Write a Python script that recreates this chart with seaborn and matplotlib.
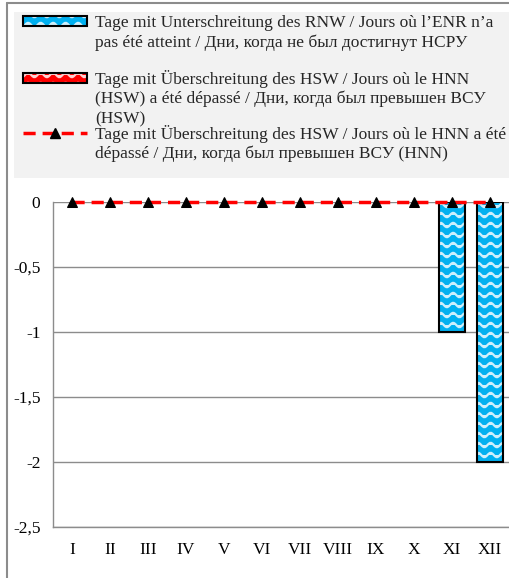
import warnings
import numpy as np
import pandas as pd
import matplotlib
matplotlib.use('Agg')
import matplotlib.pyplot as plt
import matplotlib.hatch as mhatch
from matplotlib.path import Path
from matplotlib.patches import Rectangle
from matplotlib.lines import Line2D
from matplotlib.legend_handler import HandlerTuple
import seaborn as sns

warnings.filterwarnings('ignore')

# ******************DATA******************
months = ['I', 'II', 'III', 'IV', 'V', 'VI', 'VII', 'VIII', 'IX', 'X', 'XI', 'XII']
rnw_days = [0, 0, 0, 0, 0, 0, 0, 0, 0, 0, -1, -2]   # Unterschreitung RNW
hsw_days = [0, 0, 0, 0, 0, 0, 0, 0, 0, 0, 0, 0]     # Überschreitung HSW (Balken)
hnn_days = [0, 0, 0, 0, 0, 0, 0, 0, 0, 0, 0, 0]     # Überschreitung HNN (Linie)
y_ticks = [0, -0.5, -1, -1.5, -2, -2.5]
y_ticklabels = ['0', '-0,5', '-1', '-1,5', '-2', '-2,5']

label_rnw = ['Tage mit Unterschreitung des RNW / Jours où l’ENR n’a',
             'pas été atteint / Дни, когда не был достигнут НСРУ']
label_hsw = ['Tage mit Überschreitung des HSW / Jours où le HNN',
             '(HSW) a été dépassé / Дни, когда был превышен ВСУ',
             '(HSW)']
label_hnn = ['Tage mit Überschreitung des HSW / Jours où le HNN a été',
             'dépassé / Дни, когда был превышен ВСУ (HNN)']

df = pd.DataFrame({'Monat': months, 'RNW': rnw_days, 'HSW': hsw_days, 'HNN': hnn_days})


# ******************WAVE HATCH******************
class WaveHatch(mhatch.HatchPatternBase):
    def __init__(self, hatch, density):
        self.num_lines = int(hatch.count('~') * density * 0.85)
        self.num_waves = 8
        self.pts = self.num_waves * 10 + 1
        self.num_vertices = self.num_lines * self.pts

    def set_vertices_and_codes(self, vertices, codes):
        steps, stepsize = np.linspace(0.0, 1.0, self.num_lines, False, retstep=True)
        steps += stepsize / 2.
        xs = np.linspace(0.0, 1.0, self.pts)
        wave = 0.022 * np.sin(2 * np.pi * self.num_waves * xs)
        for i, y in enumerate(steps):
            sl = slice(i * self.pts, (i + 1) * self.pts)
            vertices[sl, 0] = xs
            vertices[sl, 1] = y + wave
            codes[sl] = Path.LINETO
            codes[i * self.pts] = Path.MOVETO


mhatch._hatch_types.append(WaveHatch)

# ******************STYLE******************
sns.set_style('white')
plt.rcParams['font.family'] = ['Liberation Serif', 'DejaVu Serif']
plt.rcParams['hatch.linewidth'] = 1.6

W, H = 510, 578
FS = 12.5
BLUE = '#00B0F0'
RED = '#FF0000'
WAVE = '#CDEFFC'
GRID = '#8C8C8C'

fig = plt.figure(figsize=(W / 100, H / 100), dpi=100)
ax = fig.add_axes([53 / W, 1 - 527 / H, (509 - 53) / W, (527 - 202) / H])

# hatched bars (light waves), then black outlines on top
sns.barplot(data=df, x='Monat', y='RNW', color=BLUE, saturation=1, width=0.7, ax=ax, zorder=3)
for p in list(ax.patches):
    p.set_edgecolor(WAVE)
    p.set_linewidth(0)
    p.set_hatch('~~')

sns.barplot(data=df, x='Monat', y='HSW', color=RED, saturation=1, width=0.7, ax=ax,
            linewidth=0, zorder=3)

n_before = len(ax.patches)
sns.barplot(data=df, x='Monat', y='RNW', color=BLUE, saturation=1, width=0.7, ax=ax, zorder=4)
for p in ax.patches[n_before:]:
    p.set_facecolor('none')
    p.set_edgecolor('black')
    p.set_linewidth(1.5)
    if p.get_height() == 0:
        p.set_visible(False)

sns.lineplot(x=np.arange(len(months)), y=df['HNN'], color=RED, linewidth=2.5,
             linestyle=(0, (3.5, 2)), marker='^', markersize=7,
             markerfacecolor='black', markeredgecolor='black',
             clip_on=False, zorder=5, ax=ax)

ax.set_ylim(-2.5, 0)
ax.set_xlim(-0.5, len(months) - 0.5)
ax.set_yticks(y_ticks)
ax.set_yticklabels(y_ticklabels, fontsize=FS)
ax.set_xticks(range(len(months)))
ax.set_xticklabels(months, fontsize=FS)
ax.set_xlabel('')
ax.set_ylabel('')
ax.tick_params(axis='both', length=0, colors='black')
ax.tick_params(axis='y', pad=9)
ax.tick_params(axis='x', pad=11)
ax.yaxis.grid(True, color=GRID, linewidth=1, zorder=0)
ax.set_axisbelow(True)
for s in ['top', 'right']:
    ax.spines[s].set_visible(False)
for s in ['left', 'bottom']:
    ax.spines[s].set_color(GRID)
    ax.spines[s].set_linewidth(1)

# outer frame and legend background
fig.add_artist(Line2D([7 / W, 7 / W], [0, 1 - 3 / H], transform=fig.transFigure,
                      color=GRID, linewidth=1.5))
fig.add_artist(Line2D([7 / W, 1], [1 - 3 / H, 1 - 3 / H], transform=fig.transFigure,
                      color=GRID, linewidth=1.5))
fig.add_artist(Rectangle((14 / W, 1 - 178 / H), 1, (178 - 12) / H, transform=fig.transFigure,
                         facecolor='#F2F2F2', edgecolor='none', zorder=0))

# legend handles
rnw_fill = Rectangle((0, 0), 1, 1, facecolor=BLUE, edgecolor=WAVE, linewidth=0, hatch='~~')
rnw_edge = Rectangle((0, 0), 1, 1, facecolor='none', edgecolor='black', linewidth=1.5)
hsw_fill = Rectangle((0, 0), 1, 1, facecolor=RED, edgecolor='#FFD0D0', linewidth=0, hatch='~~')
hsw_edge = Rectangle((0, 0), 1, 1, facecolor='none', edgecolor='black', linewidth=1.5)
hnn_line = Line2D([], [], color=RED, linewidth=2.5, linestyle=(0, (3.5, 2)), marker='^',
                  markersize=7, markerfacecolor='black', markeredgecolor='black')

handle_len, text_pad = 3.7, 0.45
leg_x = 23 / W
text_x = leg_x + (handle_len + text_pad) * FS * 100 / 72 / W
line_step = 20

for handle, lines, y0 in [((rnw_fill, rnw_edge), label_rnw, 23),
                          ((hsw_fill, hsw_edge), label_hsw, 79),
                          (hnn_line, label_hnn, 134)]:
    leg = fig.legend([handle], [lines[0]], loc='center left', bbox_to_anchor=(leg_x, 1 - y0 / H),
                     frameon=False, borderpad=0, borderaxespad=0, handlelength=handle_len,
                     handleheight=0.5, handletextpad=text_pad, numpoints=1, fontsize=FS,
                     handler_map={tuple: HandlerTuple(ndivide=1, pad=0)})
    for k, line in enumerate(lines[1:], start=1):
        fig.text(text_x, 1 - (y0 + k * line_step) / H, line, fontsize=FS, va='center', ha='left')

fig.savefig('out.png', dpi=100)
